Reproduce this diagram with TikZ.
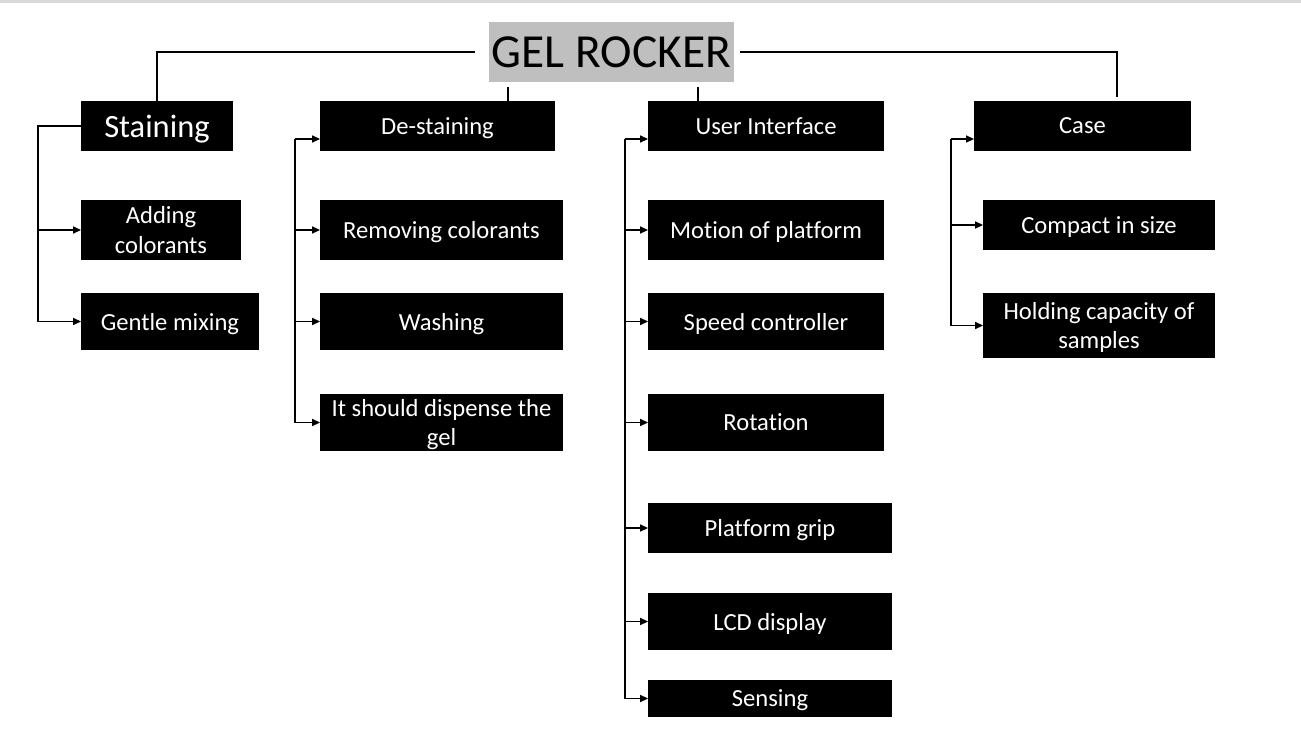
\documentclass[tikz,border=0pt]{standalone}
\usepackage{fontspec}
\setmainfont{Carlito}[Ligatures=NoCommon]
\usetikzlibrary{arrows.meta, positioning, calc}
\definecolor{titleGray}{RGB}{191,191,191}
\definecolor{barGray}{RGB}{218,218,218}

\begin{document}
\begin{tikzpicture}[
    x=0.02cm, y=-0.02cm,
    item/.style={rectangle, fill=black, text=white, inner sep=0pt, outer sep=0pt, align=center, text depth=0pt, font=\fontsize{14}{17}\selectfont},
    head/.style={item, font=\fontsize{18.5}{22}\selectfont},
    link/.style={line width=1.1pt, black},
    branch/.style={line width=0.7pt, black},
    arrow/.style={branch, -{Triangle[length=4.5pt,width=4pt]}}
  ]
  \useasboundingbox (0,0) rectangle (1301,737);
  \fill[barGray] (0,0) rectangle (1301,3);

  % Title
  \node[item, fill=titleGray, text=black, minimum width=4.9cm, minimum height=1.2cm, font=\fontsize{27}{30}\selectfont] (title) at (611.5,52) {GEL ROCKER};

  % Main branches
  \node[head, minimum width=3.04cm, minimum height=1cm] (stain) at (157,126) {Staining};
  \node[item, minimum width=4.7cm, minimum height=1cm] (destain) at (437.5,126) {De-staining};
  \node[item, minimum width=4.72cm, minimum height=1cm] (ui) at (766,126) {User Interface};
  \node[item, minimum width=4.34cm, minimum height=1cm] (case) at (1082.5,126) {Case};

  % Staining
  \node[item, minimum width=3.2cm, minimum height=1.2cm] (add) at (161,230) {Adding\\colorants};
  \node[item, minimum width=3.56cm, minimum height=1.14cm] (mix) at (170,321.5) {Gentle mixing};

  % De-staining
  \node[item, minimum width=4.86cm, minimum height=1.2cm] (remove) at (441.5,230) {Removing colorants};
  \node[item, minimum width=4.86cm, minimum height=1.14cm] (wash) at (441.5,321.5) {Washing};
  \node[item, minimum width=4.86cm, minimum height=1.14cm] (dispense) at (441.5,422.5) {It should dispense the\\gel};

  % User interface
  \node[item, minimum width=4.72cm, minimum height=1.2cm] (motion) at (766,230) {Motion of platform};
  \node[item, minimum width=4.72cm, minimum height=1.14cm] (speed) at (766,321.5) {Speed controller};
  \node[item, minimum width=4.72cm, minimum height=1.14cm] (rot) at (766,422.5) {Rotation};
  \node[item, minimum width=4.88cm, minimum height=1cm] (grip) at (770,528) {Platform grip};
  \node[item, minimum width=4.88cm, minimum height=1.14cm] (lcd) at (770,621.5) {LCD display};
  \node[item, minimum width=4.88cm, minimum height=0.74cm] (sense) at (770,698.5) {Sensing};

  % Case
  \node[item, minimum width=4.64cm, minimum height=1cm] (compact) at (1099,225) {Compact in size};
  \node[item, minimum width=4.64cm, minimum height=1.3cm] (hold) at (1099,325.5) {Holding capacity of\\samples};

  % Title to branches
  \coordinate (cr) at (1117,97);
  \coordinate (td) at (508,87);
  \coordinate (tu) at (698,87);
  \draw[link] ([xshift=-0.28cm]title.west) -| (stain.north);
  \draw[link] ([xshift=0.12cm]title.east) -| (cr);
  \draw[link] (td) -- (td |- destain.north);
  \draw[link] (tu) -- (tu |- ui.north);

  % Staining bracket
  \draw[branch] (stain.west) -- ++(-43,0) coordinate (sb) -- (sb |- mix.west);
  \foreach \n in {add, mix}
    \draw[arrow] (sb |- \n.west) -- (\n.west);

  % De-staining bracket
  \coordinate (db) at (295,139);
  \draw[branch] (db) -- (db |- dispense.west);
  \draw[arrow] (db) -- (db -| destain.west);
  \foreach \n in {remove, wash, dispense}
    \draw[arrow] (db |- \n.west) -- (\n.west);

  % User interface bracket
  \coordinate (ub) at (625,139);
  \draw[branch] (ub) -- (ub |- sense.west);
  \draw[arrow] (ub) -- (ub -| ui.west);
  \foreach \n in {motion, speed, rot, grip, lcd, sense}
    \draw[arrow] (ub |- \n.west) -- (\n.west);

  % Case bracket
  \coordinate (cb) at (951,139);
  \draw[branch] (cb) -- (cb |- hold.west);
  \draw[arrow] (cb) -- (cb -| case.west);
  \foreach \n in {compact, hold}
    \draw[arrow] (cb |- \n.west) -- (\n.west);
\end{tikzpicture}
\end{document}
